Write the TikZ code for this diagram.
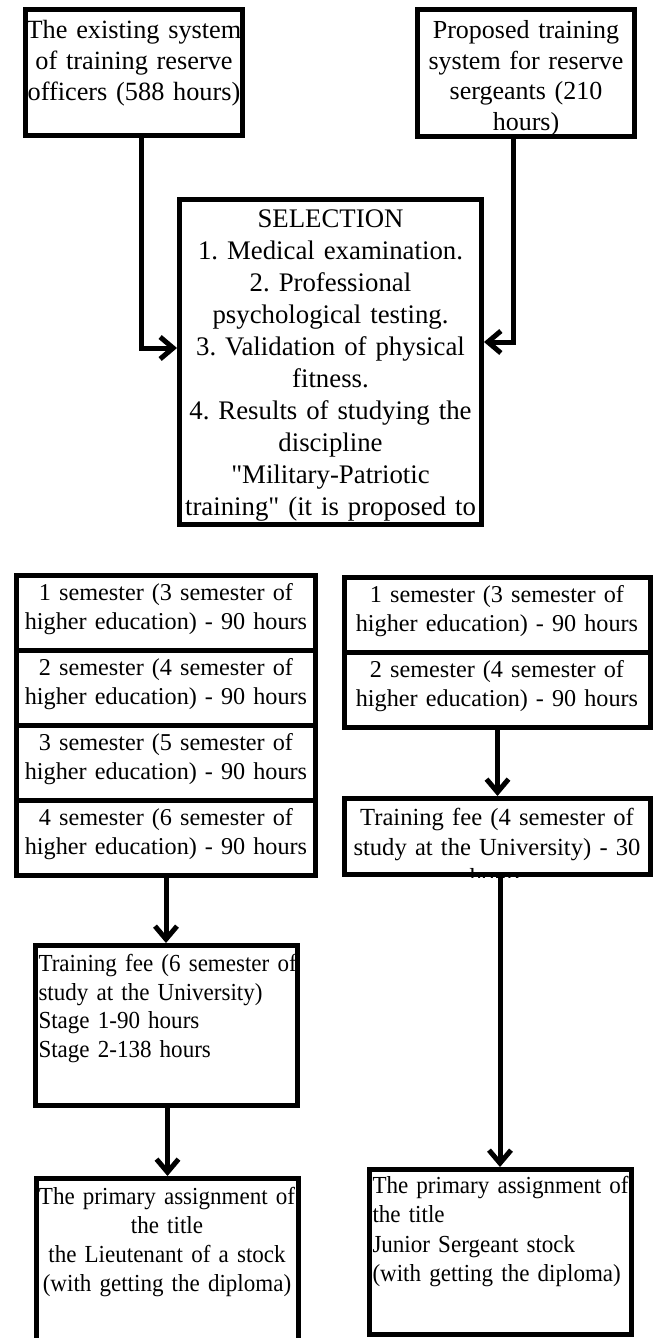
\documentclass[tikz,border=0pt]{standalone}
\usepackage{fontspec}
\setmainfont{Liberation Serif}[Ligatures=TeXOff]
\newfontfamily\cond{Liberation Serif}[Ligatures=TeXOff,FakeStretch=0.94]
\usetikzlibrary{arrows.meta}
\frenchspacing
\tikzset{
  x=1pt, y=-1pt,
  box/.style={draw, fill=white, line width=5pt, rectangle, inner sep=0pt},
  conn/.style={line width=5pt, -{Straight Barb[length=13pt,width=22pt]}},
  txt/.style={inner sep=0pt, anchor=base, text width=320pt, align=center},
  ltxt/.style={inner sep=0pt, anchor=base west, text width=320pt, align=left},
  fbig/.style={font=\fontsize{26.3}{31}\selectfont},
  fsel/.style={font=\fontsize{26.8}{32}\selectfont},
  fsem/.style={font=\fontsize{24.2}{29.5}\selectfont},
  ffee/.style={font=\fontsize{24.6}{30}\selectfont},
  fcond/.style={font=\cond\fontsize{24.5}{28.5}\selectfont},
}
\begin{document}
\begin{tikzpicture}
\useasboundingbox (0,0) rectangle (654,1338);
\clip (0,0) rectangle (654,1338);
\fill[white] (0,0) rectangle (654,1338);

% boxes
\node[box, minimum width=217pt, minimum height=126pt] (A) at (134,72.5) {};
\node[box, minimum width=217pt, minimum height=127pt] (B) at (526,73) {};
\node[box, minimum width=302pt, minimum height=325pt] (C) at (330.5,362) {};

\node[box, minimum width=299pt, minimum height=75pt] (L1) at (166,613) {};
\node[box, minimum width=299pt, minimum height=75pt] (L2) at (166,688) {};
\node[box, minimum width=299pt, minimum height=75pt] (L3) at (166,763) {};
\node[box, minimum width=299pt, minimum height=75pt] (L4) at (166,838) {};

\node[box, minimum width=306pt, minimum height=75pt] (R1) at (497.5,615) {};
\node[box, minimum width=306pt, minimum height=75pt] (R2) at (497.5,690) {};

\node[box, minimum width=306pt, minimum height=76pt] (RF) at (497.5,836.5) {};
\node[box, minimum width=262pt, minimum height=160pt] (LF) at (166.5,1025.5) {};

\node[box, minimum width=262.5pt, minimum height=240pt] (LT) at (167.25,1298.5) {};
\node[box, minimum width=262pt, minimum height=165pt] (RT) at (500.5,1252) {};

% texts
\node[txt, fbig] (tA) at (134,38.5) {The existing system\\of training reserve\\officers (588 hours)};
\node[txt, font=\fontsize{26}{30.5}\selectfont] (tB) at (526,39) {Proposed training\\system for reserve\\sergeants (210\\hours)};
\node[txt, fsel] (tC) at (330.5,227) {SELECTION\\1. Medical examination.\\2. Professional\\psychological testing.\\3. Validation of physical\\fitness.\\4. Results of studying the\\discipline\\"Military-Patriotic\\training" (it is proposed to};

\node[txt, fsem] (tL1) at (166,600) {1 semester (3 semester of\\higher education) - 90 hours};
\node[txt, fsem] (tL2) at (166,675) {2 semester (4 semester of\\higher education) - 90 hours};
\node[txt, fsem] (tL3) at (166,750) {3 semester (5 semester of\\higher education) - 90 hours};
\node[txt, fsem] (tL4) at (166,825) {4 semester (6 semester of\\higher education) - 90 hours};

\node[txt, fsem] (tR1) at (497,602) {1 semester (3 semester of\\higher education) - 90 hours};
\node[txt, fsem] (tR2) at (497,677) {2 semester (4 semester of\\higher education) - 90 hours};

\begin{scope}
\clip (RF.north west) rectangle (RF.south east);
\node[txt, ffee] (tRF) at (497,825) {Training fee (4 semester of\\study at the University) - 30\\hours};
\end{scope}

\node[ltxt, fcond] (tLF) at (38.3,971.7) {Training fee (6 semester of\\study at the University)\\Stage 1-90 hours\\Stage 2-138 hours};

\node[txt, font=\cond\fontsize{24.5}{29}\selectfont] (tLT) at (167,1204) {The primary assignment of\\the title\\the Lieutenant of a stock\\(with getting the diploma)};
\node[ltxt, font=\cond\fontsize{24.5}{29.3}\selectfont] (tRT) at (372.3,1193.5) {The primary assignment of\\the title\\Junior Sergeant stock\\(with getting the diploma)};

% connectors
\draw[conn] ([xshift=7pt]A.south) |- ([yshift=14pt]C.west);
\draw[conn] ([xshift=-13pt]B.south) |- ([yshift=20pt]C.east);
\draw[conn] (L4.south) -- (L4.south |- LF.north);
\draw[conn] (R2.south) -- (R2.south |- RF.north);
\draw[conn] ([xshift=1pt]LF.south) -- ([xshift=1pt]LF.south |- LT.north);
\draw[conn] ([xshift=2.5pt]RF.south) -- ([xshift=2.5pt]RF.south |- RT.north);
\end{tikzpicture}
\end{document}
